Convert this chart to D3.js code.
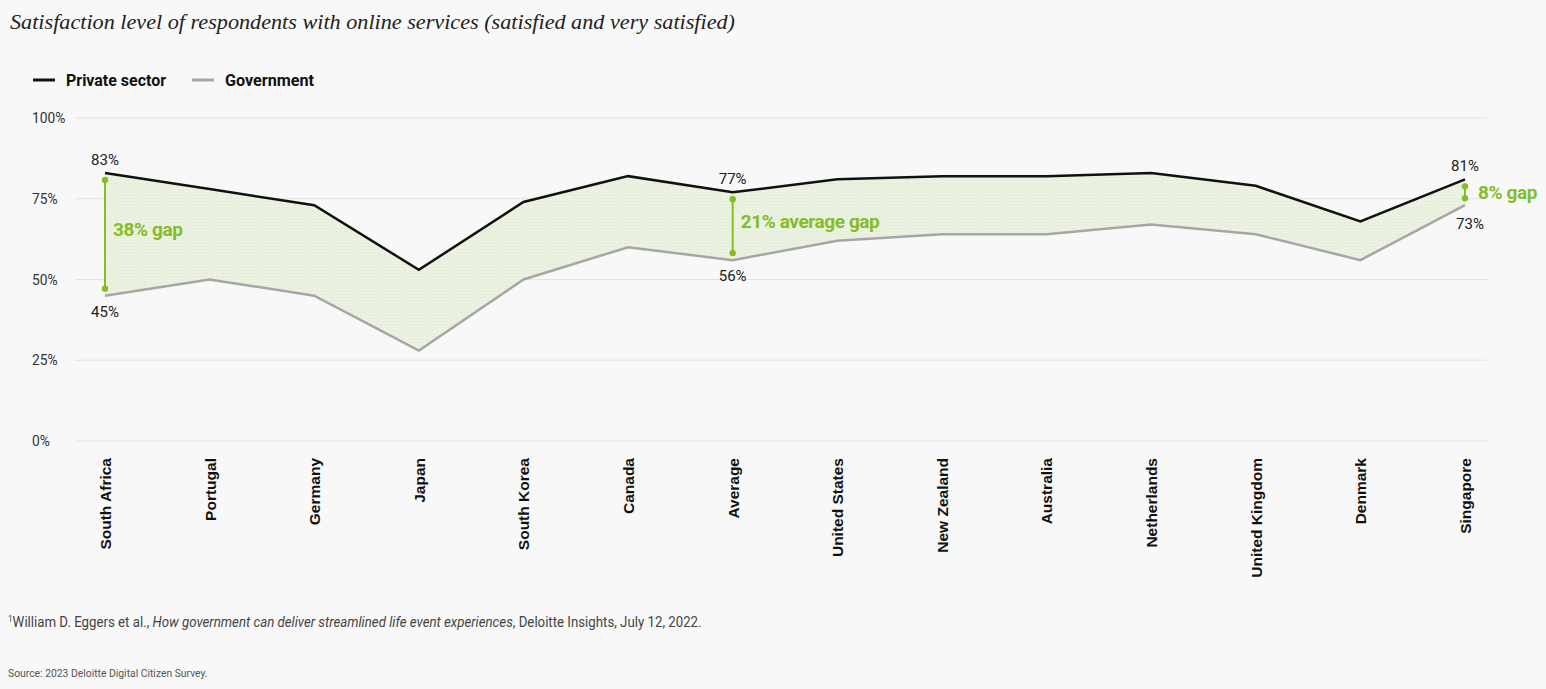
<!doctype html>
<html lang="en">
<head>
<meta charset="utf-8">
<title>Satisfaction with online services</title>
<style>
  body { margin: 0; background: #f8f8f8; }
  svg { display: block; }
  .narrow { font-family: "Liberation Sans Narrow", "Arial Narrow", "Roboto", sans-serif; }
</style>
</head>
<body>
<div id="chart"></div>
<script src="https://cdn.jsdelivr.net/npm/d3@7"></script>
<script>
// data
const countries = ["South Africa", "Portugal", "Germany", "Japan", "South Korea", "Canada", "Average",
  "United States", "New Zealand", "Australia", "Netherlands", "United Kingdom", "Denmark", "Singapore"];
const privateSector = [83, 78, 73, 53, 74, 82, 77, 81, 82, 82, 83, 79, 68, 81];
const government    = [45, 50, 45, 28, 50, 60, 56, 62, 64, 64, 67, 64, 56, 73];
const yTicks = [0, 25, 50, 75, 100];
// which points get a gap annotation
const gapCountries = ["South Africa", "Average", "Singapore"];
const gapSuffix = ["% gap", "% average gap", "% gap"];

const width = 1546, height = 689;
const green = "#86bc25";

const svg = d3.select("#chart").append("svg")
  .attr("width", width)
  .attr("height", height);

const x = d3.scalePoint().domain(countries).range([105, 1465]);
const y = d3.scaleLinear().domain([0, 100]).range([441, 118]);

// title
svg.append("text")
  .attr("x", 10).attr("y", 29)
  .attr("font-family", "Liberation Serif, serif")
  .attr("font-style", "italic")
  .attr("font-size", 22)
  .attr("fill", "#222")
  .attr("textLength", 725)
  .attr("lengthAdjust", "spacingAndGlyphs")
  .text("Satisfaction level of respondents with online services (satisfied and very satisfied)");

// legend
const legend = [{name: "Private sector", color: "#111", x: 33, w: 100}, {name: "Government", color: "#a6a6a6", x: 192, w: 89}];
const lg = svg.append("g").selectAll("g").data(legend).enter().append("g")
  .attr("transform", d => "translate(" + d.x + ",80)");
lg.append("line").attr("x1", 0).attr("x2", 22).attr("stroke", d => d.color).attr("stroke-width", 3);
lg.append("text")
  .attr("class", "narrow")
  .attr("x", 33).attr("dy", "0.35em")
  .attr("font-size", 16).attr("font-weight", "bold").attr("fill", "#111")
  .attr("textLength", d => d.w).attr("lengthAdjust", "spacingAndGlyphs")
  .text(d => d.name);

// gridlines + y labels
const grid = svg.append("g");
grid.selectAll("line").data(yTicks).enter().append("line")
  .attr("x1", 75).attr("x2", 1487)
  .attr("y1", d => y(d)).attr("y2", d => y(d))
  .attr("stroke", "#e2e2e2").attr("stroke-width", 1);
grid.selectAll("text").data(yTicks).enter().append("text")
  .attr("class", "narrow")
  .attr("x", 32).attr("y", d => y(d)).attr("dy", "0.35em")
  .attr("font-size", 15).attr("fill", "#333")
  .attr("transform", d => "translate(" + (32 * 0.08) + ",0) scale(0.92,1)")
  .text(d => d + "%");

// x axis labels
const xAxis = svg.append("g")
  .attr("transform", "translate(0,441)")
  .call(d3.axisBottom(x).tickSize(0).tickPadding(0));
xAxis.select(".domain").remove();
xAxis.selectAll("text")
  .attr("transform", "rotate(-90)")
  .attr("x", -17).attr("y", 0).attr("dy", "0.35em")
  .attr("text-anchor", "end")
  .attr("font-family", "Liberation Sans, Arial, sans-serif")
  .attr("font-weight", "bold")
  .attr("font-size", 15.5)
  .attr("fill", "#111");

const rows = countries.map((c, i) => ({c: c, p: privateSector[i], g: government[i]}));

// shaded gap area
const defs = svg.append("defs");
const pat = defs.append("pattern").attr("id", "dots")
  .attr("width", 3).attr("height", 3).attr("patternUnits", "userSpaceOnUse");
pat.append("rect").attr("width", 3).attr("height", 3).attr("fill", "#ebf2e1");
pat.append("rect").attr("width", 1).attr("height", 1).attr("fill", "#dde8cd");

svg.append("path").datum(rows)
  .attr("fill", "url(#dots)")
  .attr("d", d3.area().x(d => x(d.c)).y0(d => y(d.g)).y1(d => y(d.p)));

// lines
svg.append("path").datum(rows)
  .attr("fill", "none").attr("stroke", "#a6a6a6").attr("stroke-width", 2.5)
  .attr("d", d3.line().x(d => x(d.c)).y(d => y(d.g)));
svg.append("path").datum(rows)
  .attr("fill", "none").attr("stroke", "#111").attr("stroke-width", 2.5)
  .attr("d", d3.line().x(d => x(d.c)).y(d => y(d.p)));

// gap annotations
const gaps = rows.filter(d => gapCountries.includes(d.c));
const ga = svg.append("g").selectAll("g").data(gaps).enter().append("g");
const inset = 7;
ga.append("line")
  .attr("x1", d => x(d.c)).attr("x2", d => x(d.c))
  .attr("y1", d => y(d.p) + inset).attr("y2", d => y(d.g) - inset)
  .attr("stroke", green).attr("stroke-width", 2);
ga.append("circle").attr("cx", d => x(d.c)).attr("cy", d => y(d.p) + inset).attr("r", 3.2).attr("fill", green);
ga.append("circle").attr("cx", d => x(d.c)).attr("cy", d => y(d.g) - inset).attr("r", 3.2).attr("fill", green);
ga.append("text")
  .attr("class", "narrow")
  .attr("x", d => x(d.c) + (d.c === "Singapore" ? 13 : 8))
  .attr("y", d => (y(d.p) + y(d.g)) / 2 - (d.c === "Singapore" ? 0 : 5)).attr("dy", "0.35em")
  .attr("font-size", 19).attr("font-weight", "bold").attr("fill", green)
  .attr("letter-spacing", -0.4)
  .text((d, i) => (d.p - d.g) + gapSuffix[i]);

// value labels
ga.append("text")
  .attr("class", "narrow")
  .attr("x", d => x(d.c)).attr("y", d => y(d.p) - 8)
  .attr("text-anchor", "middle")
  .attr("font-size", 15).attr("fill", "#222")
  .text(d => d.p + "%");
ga.append("text")
  .attr("class", "narrow")
  .attr("x", d => x(d.c) + (d.c === "Singapore" ? 5 : 0))
  .attr("y", d => y(d.g) + (d.c === "Singapore" ? 24 : 21))
  .attr("text-anchor", "middle")
  .attr("font-size", 15).attr("fill", "#222")
  .text(d => d.g + "%");

// footnote and source
const foot = svg.append("text")
  .attr("class", "narrow")
  .attr("transform", "translate(8,627) scale(0.915,1)")
  .attr("font-size", 14.5).attr("fill", "#444");
foot.append("tspan").attr("font-size", 9).attr("dy", -5).text("1");
foot.append("tspan").attr("dy", 5).text("William D. Eggers et al., ");
foot.append("tspan").attr("font-style", "italic").text("How government can deliver streamlined life event experiences");
foot.append("tspan").text(", Deloitte Insights, July 12, 2022.");

svg.append("text")
  .attr("class", "narrow")
  .attr("transform", "translate(8,677) scale(0.9,1)")
  .attr("font-size", 11.5).attr("fill", "#555")
  .text("Source: 2023 Deloitte Digital Citizen Survey.");
</script>
</body>
</html>
